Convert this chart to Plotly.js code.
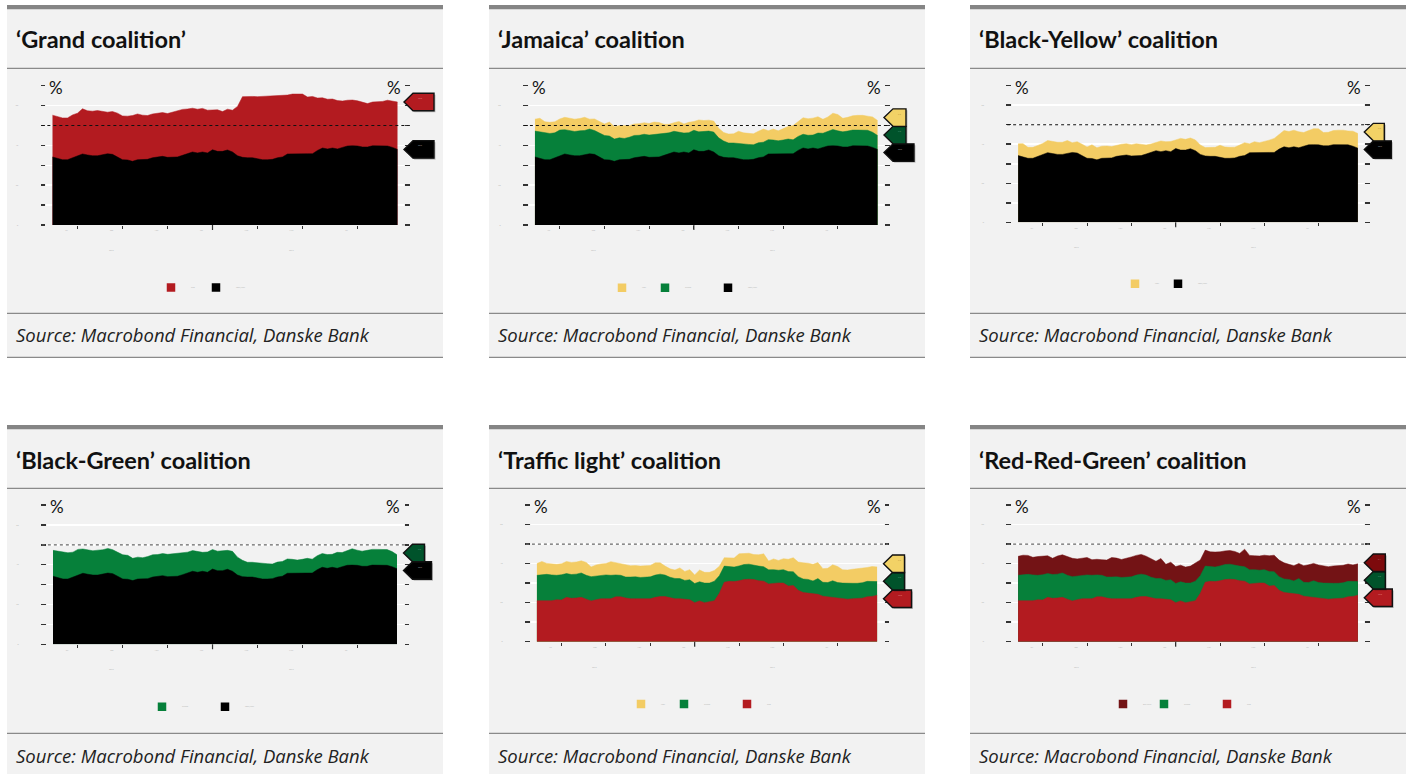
<!DOCTYPE html>
<html>
<head>
<meta charset="utf-8">
<script src="https://cdn.plot.ly/plotly-3.0.1.min.js"></script>
<style>
  html, body { margin: 0; padding: 0; background: #ffffff; }
  #chart { width: 1410px; height: 774px; }
</style>
</head>
<body>
<div id="chart"></div>
<script>
// ---- Poll dates (category axis) ----
const pollDates = [
  '2016-05-27','2016-06-03','2016-06-10','2016-06-17','2016-06-24',
  '2016-07-01',
  '2016-07-08','2016-07-15','2016-07-22','2016-07-29','2016-08-05','2016-08-12','2016-08-19','2016-08-26',
  '2016-09-02',
  '2016-09-09','2016-09-16','2016-09-23','2016-09-30','2016-10-07','2016-10-14','2016-10-21','2016-10-28',
  '2016-11-04',
  '2016-11-11','2016-11-18','2016-11-25','2016-12-02','2016-12-09','2016-12-16','2016-12-23','2016-12-30',
  '2017-01-06',
  '2017-01-13','2017-01-20','2017-01-27','2017-02-01','2017-02-08','2017-02-15','2017-02-22','2017-02-26',
  '2017-03-01',
  '2017-03-08','2017-03-15','2017-03-22','2017-03-29','2017-04-05','2017-04-12','2017-04-19','2017-04-26',
  '2017-05-03',
  '2017-05-08','2017-05-12','2017-05-17','2017-05-24','2017-05-31','2017-06-07','2017-06-14','2017-06-21','2017-06-25','2017-06-30',
  '2017-07-05',
  '2017-07-12','2017-07-19','2017-07-26','2017-08-02','2017-08-09','2017-08-16','2017-08-23','2017-08-30'
];

// ---- Poll shares, % ----
const cduCsu = [
  34.2,33.5,32.8,32.8,33.8,34.8,35.7,35.2,34.8,34.8,
  35.3,35.8,35.5,34.2,32.8,32.7,32.0,32.8,32.8,33.0,
  33.8,34.2,34.5,34.0,34.0,34.2,35.0,35.8,36.7,36.2,
  36.7,36.2,37.8,37.0,37.0,37.7,36.7,34.8,34.0,33.8,
  33.8,33.3,32.8,32.8,33.0,33.8,34.2,35.7,35.8,35.8,
  35.8,35.8,35.8,37.5,38.7,38.2,38.7,38.2,39.0,39.7,
  39.8,39.7,39.2,39.2,39.8,39.8,39.8,39.7,39.0,38.0
];
const spd = [
  21.0,21.0,21.0,21.0,21.5,21.4,22.7,22.2,22.4,22.7,
  21.8,20.9,21.5,22.0,22.0,22.0,23.0,23.0,22.4,22.0,
  22.0,22.0,22.0,22.0,22.7,23.1,23.1,22.5,22.0,22.0,
  21.9,21.5,20.0,20.9,20.0,20.5,21.0,24.8,30.5,30.9,
  30.8,31.2,31.8,32.0,31.8,31.2,31.0,29.6,30.0,30.1,
  30.0,28.5,28.8,26.3,25.2,25.0,24.6,24.3,23.3,23.0,
  23.0,22.7,22.4,21.8,22.0,22.0,22.3,23.0,23.2,23.8
];
const greens = [
  13.0,13.3,13.5,13.2,12.5,12.9,12.2,12.2,12.2,12.5,
  12.2,12.4,12.0,12.0,12.2,12.0,11.2,11.0,10.7,11.1,
  11.2,10.9,11.1,11.2,11.4,11.5,11.0,10.5,10.4,10.3,
  9.5,10.2,9.8,9.8,10.0,9.5,10.0,9.0,8.2,7.4,
  7.4,7.6,7.7,7.7,7.3,7.5,7.4,7.2,6.9,6.5,
  6.9,7.4,7.0,7.0,6.9,6.9,6.5,8.0,7.1,7.3,
  8.2,7.6,7.6,8.0,7.9,7.9,7.9,7.9,7.6,7.0
];
const fdp = [
  6.0,6.8,5.6,5.6,5.6,5.6,6.2,6.2,6.2,6.2,
  6.6,5.0,5.8,5.8,5.8,7.0,6.2,6.2,6.3,5.8,
  5.8,5.8,5.8,5.8,6.3,5.8,4.6,4.3,4.3,5.5,
  4.6,5.2,4.4,6.0,5.5,5.5,5.5,4.8,4.3,4.5,
  4.6,6.2,5.8,5.6,5.5,5.8,6.6,4.5,5.5,5.0,
  5.6,6.3,7.2,7.5,8.3,8.3,8.5,8.2,7.0,7.3,
  8.2,8.2,6.8,6.9,7.2,7.4,7.4,7.1,7.7,7.5
];
const linke = [
  9.7,10.0,9.7,9.0,9.6,9.6,9.1,8.3,9.3,9.3,
  9.7,9.4,8.9,8.9,8.9,8.0,8.0,8.0,8.7,10.0,
  9.6,9.2,9.5,10.2,10.1,10.1,9.7,9.6,8.8,10.3,
  8.2,9.0,8.7,8.5,8.2,8.7,9.5,8.1,8.2,7.7,
  7.7,7.2,7.0,7.0,7.1,6.5,9.0,7.4,7.1,7.3,
  7.4,8.1,8.5,8.5,8.3,7.8,7.8,7.8,8.5,9.1,
  8.9,9.0,8.9,8.6,8.9,8.9,8.9,8.9,8.5,9.1
];

// ---- Axis ticks ----
const tickDates = ['2016-07-01','2016-09-02','2016-11-04','2017-01-06','2017-03-01','2017-05-03','2017-07-05'];
const tickLabels = ['Jul','Sep','Nov','Jan','Mar','May','Jul'];
const yearDates = ['2016-09-02','2017-05-03'];
const yearLabels = ['2016','2017'];
const yTickVals = [0,10,20,30,40,50,60,70];
const yTickText = ['0','','20','','40','','60',''];
const majority = 50;
const sourceText = 'Source: Macrobond Financial, Danske Bank';

// ---- Party styling ----
const parties = {
  cdu: { name: 'CDU/CSU',   values: cduCsu, fill: '#000000', flag: '#000000', flagText: '#9a9a9a' },
  spd: { name: 'SPD',       values: spd,    fill: '#b31b20', flag: '#b31b20', flagText: '#e08080' },
  gru: { name: 'Greens',    values: greens, fill: '#06803a', flag: '#00532b', flagText: '#6aa080' },
  fdp: { name: 'FDP',       values: fdp,    fill: '#f3cc64', flag: '#f2d266', flagText: '#b09040' },
  lin: { name: 'Die Linke', values: linke,  fill: '#731315', flag: '#7d0a0c', flagText: '#c07070' }
};

// ---- Panel layout (pixels) ----
const W = 1410, H = 774;
const panels = [
  { title: '‘Grand coalition’',        card: [7, 5],     dom: [46, 85.7, 404, 225],      stack: ['cdu','spd'],        flagW: { cdu: 30, spd: 30 },        legend: [['spd',170],['cdu',215]],             legendY: 287.5, dash: '#111111' },
  { title: '‘Jamaica’ coalition',      card: [489, 5],   dom: [528.5, 85.7, 884, 225],   stack: ['cdu','gru','fdp'],  flagW: { cdu: 30, gru: 22, fdp: 22 }, legend: [['fdp',621],['gru',664],['cdu',727]], legendY: 287.7, dash: '#111111' },
  { title: '‘Black-Yellow’ coalition', card: [970, 5],   dom: [1011.7, 85.7, 1364.3, 222.3], stack: ['cdu','fdp'],    flagW: { cdu: 27, fdp: 20 },        legend: [['fdp',1134],['cdu',1177]],           legendY: 283.7, dash: '#111111' },
  { title: '‘Black-Green’ coalition',  card: [7, 425],   dom: [46.5, 505, 403.5, 644.3], stack: ['cdu','gru'],        flagW: { cdu: 28, gru: 21 },        legend: [['gru',161],['cdu',224]],             legendY: 706.7, dash: '#666666' },
  { title: '‘Traffic light’ coalition',card: [489, 425], dom: [530.5, 505, 883.5, 641.7], stack: ['spd','gru','fdp'], flagW: { spd: 28, gru: 21, fdp: 21 }, legend: [['fdp',640],['gru',683],['spd',746]], legendY: 704, dash: '#666666' },
  { title: '‘Red-Red-Green’ coalition',card: [970, 425], dom: [1011.7, 505, 1364.3, 641.7], stack: ['spd','gru','lin'], flagW: { spd: 28, gru: 21, lin: 21 }, legend: [['lin',1122],['gru',1163],['spd',1226]], legendY: 704, dash: '#666666' }
];

const FONT = 'Lato, "Open Sans", Arial, sans-serif';
const SOURCE_FONT = '"Open Sans", Lato, Arial, sans-serif';
const CARD_W = 436;
const FLAG_H = 17.5, FLAG_TIP = 9;
const LEGEND_SYMBOL_OFFSET = 19;

const px = x => x / W;
const py = y => 1 - y / H;

// Spread flag markers so they do not overlap (positions in data units)
function spreadFlags(targets, gap) {
  const items = targets.map((v, i) => ({ v, i })).sort((a, b) => b.v - a.v);
  let clusters = items.map(it => ({ members: [it], center: it.v }));
  let merged = true;
  while (merged) {
    merged = false;
    for (let c = 0; c < clusters.length - 1; c++) {
      const A = clusters[c], B = clusters[c + 1];
      const aLow = A.center - (A.members.length - 1) * gap / 2;
      const bHigh = B.center + (B.members.length - 1) * gap / 2;
      if (aLow - bHigh < gap) {
        const members = A.members.concat(B.members);
        const center = members.reduce((s, m) => s + m.v, 0) / members.length;
        clusters.splice(c, 2, { members, center });
        merged = true;
        break;
      }
    }
  }
  const pos = new Array(targets.length);
  clusters.forEach(C => {
    C.members.forEach((m, k) => { pos[m.i] = C.center + ((C.members.length - 1) / 2 - k) * gap; });
  });
  return pos;
}

const traces = [];
const shapes = [];
const annotations = [];
const layout = {
  width: W, height: H,
  margin: { l: 0, r: 0, t: 0, b: 0 },
  paper_bgcolor: '#ffffff',
  plot_bgcolor: '#f2f2f2',
  font: { family: FONT, color: '#111111' },
  showlegend: true,
  hovermode: false
};

let legendCount = 0;

panels.forEach((p, idx) => {
  const k = idx + 1;
  const xa = 'x' + k, ya = 'y' + k;
  const [cx, cy] = p.card;
  const [dx0, dy0, dx1, dy1] = p.dom;
  const domW = dx1 - dx0, domH = dy1 - dy0;
  const unitPx = domH / 70;

  // card background and rules
  shapes.push({ type: 'rect', xref: 'paper', yref: 'paper', x0: px(cx), x1: px(cx + CARD_W), y0: py(cy + 352.3), y1: py(cy),
                fillcolor: '#f2f2f2', line: { width: 0 }, layer: 'below' });
  shapes.push({ type: 'rect', xref: 'paper', yref: 'paper', x0: px(cx), x1: px(cx + CARD_W), y0: py(cy + 4.3), y1: py(cy),
                fillcolor: '#858585', line: { width: 0 }, layer: 'below' });
  [63.3, 308.3, 352.3].forEach(dy => {
    shapes.push({ type: 'line', xref: 'paper', yref: 'paper', x0: px(cx), x1: px(cx + CARD_W), y0: py(cy + dy), y1: py(cy + dy),
                  line: { color: '#8a8a8a', width: 1.3 }, layer: 'below' });
  });

  // titles
  annotations.push({ xref: 'paper', yref: 'paper', x: px(cx + 7), y: py(cy + 34.5), xanchor: 'left', yanchor: 'middle',
                     text: p.title, showarrow: false, font: { family: FONT, size: 23.5, weight: 700, color: '#111111' } });
  annotations.push({ xref: 'paper', yref: 'paper', x: px(cx + 7), y: py(cy + 330), xanchor: 'left', yanchor: 'middle',
                     text: '<i>' + sourceText + '</i>', showarrow: false, font: { family: SOURCE_FONT, size: 18.5, color: '#222222' } });

  // axes
  layout['xaxis' + k] = {
    domain: [px(dx0), px(dx1)], anchor: ya, type: 'category',
    categoryorder: 'array', categoryarray: pollDates, range: [-1.3, pollDates.length + 0.3],
    tickmode: 'array', tickvals: tickDates, ticktext: tickLabels,
    ticks: 'outside', ticklen: 3, tickwidth: 1, tickcolor: '#333333',
    tickfont: { size: 2, color: '#b0b0b0' }, ticklabelshift: -11,
    showgrid: false, zeroline: false, showline: false, fixedrange: true
  };
  layout['yaxis' + k] = {
    domain: [py(dy1), py(dy0)], anchor: xa, range: [0, 70],
    tickmode: 'array', tickvals: yTickVals, ticktext: yTickText,
    ticks: 'outside', ticklen: 4.5, tickwidth: 1.5, tickcolor: '#333333', mirror: 'ticks',
    tickfont: { size: 2, color: '#b0b0b0' }, ticklabelstandoff: 22,
    showgrid: true, gridcolor: '#ffffff', gridwidth: 1.5,
    zeroline: false, showline: false, fixedrange: true
  };

  // longer tick at the turn of the year
  shapes.push({ type: 'line', xref: xa, yref: ya + ' domain', x0: tickDates[3], x1: tickDates[3], y0: 0, y1: -5 / domH,
                line: { color: '#333333', width: 1.2 } });

  // stacked areas: cumulative tops, drawn back to front
  const cum = [];
  p.stack.forEach((key, j) => {
    const vals = parties[key].values;
    cum.push(vals.map((v, i) => (j ? cum[j - 1][i] : 0) + v));
  });
  for (let j = p.stack.length - 1; j >= 0; j--) {
    const party = parties[p.stack[j]];
    traces.push({
      type: 'scatter', mode: 'lines', x: pollDates, y: cum[j], xaxis: xa, yaxis: ya,
      fill: 'tozeroy', fillcolor: party.fill, line: { color: party.fill, width: 0.5 },
      showlegend: false, hoverinfo: 'skip'
    });
  }

  // majority line
  shapes.push({ type: 'line', xref: xa + ' domain', yref: ya, x0: -0.013, x1: 1.013, y0: majority, y1: majority,
                line: { color: p.dash, width: 1.2, dash: '3px,3px' }, layer: 'above' });

  // unit labels
  annotations.push({ xref: xa + ' domain', yref: ya, x: 0, y: 70, xanchor: 'left', yanchor: 'middle', xshift: 1, yshift: -1.5,
                     text: '%', showarrow: false, font: { family: FONT, size: 17, color: '#111111' } });
  annotations.push({ xref: xa + ' domain', yref: ya, x: 1, y: 70, xanchor: 'right', yanchor: 'middle', xshift: -1, yshift: -1.5,
                     text: '%', showarrow: false, font: { family: FONT, size: 17, color: '#111111' } });

  // year labels under the month labels
  yearDates.forEach((d, i) => {
    annotations.push({ xref: xa, yref: ya + ' domain', x: d, y: -25 / domH, xanchor: 'center', yanchor: 'middle', xshift: -11,
                       text: yearLabels[i], showarrow: false, font: { family: FONT, size: 2, color: '#b0b0b0' } });
  });

  // end-of-series flags
  const last = pollDates.length - 1;
  const targets = cum.map(c => c[last]);
  const gapUnits = FLAG_H / unitPx;
  const pos = spreadFlags(targets, gapUnits);
  const hu = (FLAG_H / 2) / unitPx;
  const fx = d => 1 + d / domW;
  p.stack.forEach((key, j) => {
    const party = parties[key];
    const w = p.flagW[key];
    const yc = pos[j];
    const path = (ox, oy) =>
      `M ${fx(ox)},${yc + oy} L ${fx(ox + FLAG_TIP)},${yc + oy + hu} L ${fx(ox + w)},${yc + oy + hu} ` +
      `L ${fx(ox + w)},${yc + oy - hu} L ${fx(ox + FLAG_TIP)},${yc + oy - hu} Z`;
    shapes.push({ type: 'path', xref: xa + ' domain', yref: ya, path: path(1.5, -1.5 / unitPx),
                  fillcolor: 'rgba(0,0,0,0.22)', line: { width: 0 }, layer: 'above' });
    shapes.push({ type: 'path', xref: xa + ' domain', yref: ya, path: path(0, 0),
                  fillcolor: party.flag, line: { color: '#111111', width: 1.4 }, layer: 'above' });
    annotations.push({ xref: xa + ' domain', yref: ya, x: fx(FLAG_TIP + 3), y: yc + hu * 0.45, xanchor: 'left', yanchor: 'middle',
                       text: party.values[last].toFixed(1), showarrow: false, font: { family: FONT, size: 2, color: party.flagText } });
  });

  // legend entries (one small legend per item)
  p.legend.forEach(([key, centerX]) => {
    legendCount++;
    const id = legendCount === 1 ? 'legend' : 'legend' + legendCount;
    const party = parties[key];
    traces.push({
      type: 'scatter', mode: 'markers', x: [null], y: [null], xaxis: xa, yaxis: ya,
      marker: { symbol: 'square', size: 8.5, color: party.fill, line: { width: 0 } },
      name: party.name, legend: id, hoverinfo: 'skip'
    });
    layout[id] = {
      x: px(centerX - LEGEND_SYMBOL_OFFSET), y: py(p.legendY), xanchor: 'left', yanchor: 'middle',
      orientation: 'h', bgcolor: 'rgba(0,0,0,0)', borderwidth: 0,
      font: { family: FONT, size: 2, color: '#b8b8b8' }
    };
  });
});

layout.shapes = shapes;
layout.annotations = annotations;

Plotly.newPlot('chart', traces, layout, { staticPlot: true, displayModeBar: false });
</script>
</body>
</html>
